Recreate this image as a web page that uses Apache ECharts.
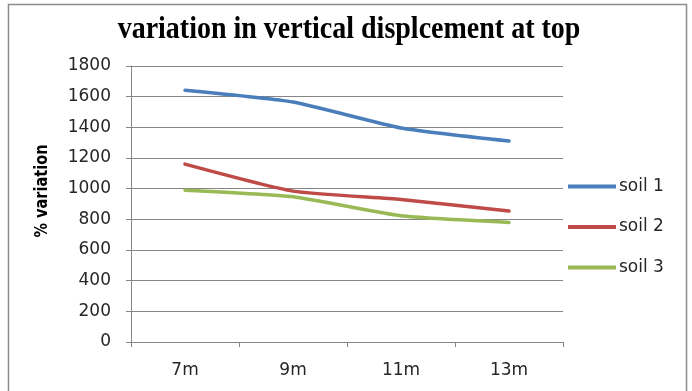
<!DOCTYPE html>
<html>
<head>
<meta charset="utf-8">
<script src="https://cdn.jsdelivr.net/npm/echarts@6/dist/echarts.min.js"></script>
<style>
  html, body { margin: 0; padding: 0; background: #fff; }
  #chart { width: 692px; height: 391px; }
</style>
</head>
<body>
<div id="chart"></div>
<script>
// Pile lengths along the x axis
const categories = ['7m', '9m', '11m', '13m'];
// Percentage variation of vertical displacement at the top, per soil type
const soil1 = [1642, 1565, 1396, 1311];
const soil2 = [1160, 984, 930, 854];
const soil3 = [990, 947, 823, 780];
const seriesNames = ['soil 1', 'soil 2', 'soil 3'];
const seriesColors = ['#4A7EBB', '#BE4B48', '#98B954'];
const chartTitle = 'variation in vertical displcement at top';
const yAxisTitle = '% variation';

const chart = echarts.init(document.getElementById('chart'));
const labelFont = { fontFamily: 'DejaVu Sans, sans-serif', fontSize: 17, color: '#262626' };

chart.setOption({
  animation: false,
  backgroundColor: '#fff',
  graphic: [
    {
      type: 'rect',
      shape: { x: 8.5, y: 4.5, width: 678, height: 400 },
      style: { fill: 'none', stroke: '#8c8c8c', lineWidth: 1.5 },
      silent: true
    },
    {
      // chart title, slightly tall serif face
      type: 'text',
      x: 349,
      y: 46,
      scaleY: 1.12,
      style: {
        text: chartTitle,
        fill: '#000',
        font: 'bold 28px "Liberation Serif", "Times New Roman", serif',
        align: 'center',
        verticalAlign: 'bottom'
      },
      silent: true
    },
    {
      // y axis title in a condensed bold face
      type: 'text',
      x: 42,
      y: 191,
      rotation: Math.PI / 2,
      scaleX: 0.83,
      style: {
        text: yAxisTitle,
        fill: '#000',
        font: 'bold 17.5px "DejaVu Sans", sans-serif',
        align: 'center',
        verticalAlign: 'middle'
      },
      silent: true
    }
  ],
  legend: {
    orient: 'vertical',
    left: 563,
    top: 173,
    itemWidth: 48,
    itemHeight: 4,
    itemGap: 23.5,
    icon: 'rect',
    data: seriesNames,
    textStyle: Object.assign({}, labelFont, { padding: [0, 0, 0, -2] })
  },
  grid: { left: 131, right: 129, top: 66, bottom: 49, containLabel: false },
  xAxis: {
    type: 'category',
    data: categories,
    boundaryGap: true,
    axisLine: { lineStyle: { color: '#868686', width: 1 } },
    axisTick: { show: true, alignWithLabel: false, length: 5, lineStyle: { color: '#868686' } },
    axisLabel: Object.assign({}, labelFont, { margin: 20 })
  },
  yAxis: {
    type: 'value',
    min: 0,
    max: 1800,
    interval: 200,
    axisLine: { show: true, lineStyle: { color: '#868686', width: 1 } },
    axisTick: { show: true, length: 5, lineStyle: { color: '#868686' } },
    splitLine: { lineStyle: { color: '#868686', width: 1 } },
    axisLabel: Object.assign({}, labelFont, { margin: 20, formatter: v => String(v) })
  },
  series: [soil1, soil2, soil3].map((values, i) => ({
    name: seriesNames[i],
    type: 'line',
    data: values,
    smooth: 0.18,
    symbol: 'none',
    lineStyle: { width: 3.5, color: seriesColors[i], cap: 'round' },
    itemStyle: { color: seriesColors[i] }
  }))
});
</script>
</body>
</html>
